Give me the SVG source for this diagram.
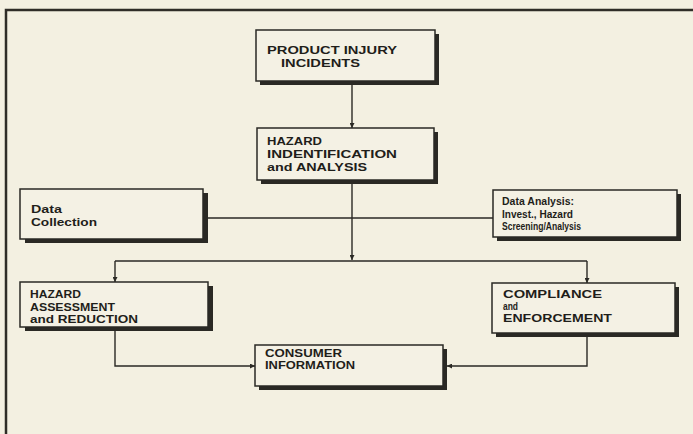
<svg xmlns="http://www.w3.org/2000/svg" width="693" height="434" viewBox="0 0 693 434">
<style>
.bg{fill:#f3f0e1}
.frame{fill:none;stroke:#2f2d27;stroke-width:2.5}
.box{fill:#f4f1e4;stroke:#2a2924;stroke-width:1.5}
.sh{fill:#2a2924}
.t{font-family:"Liberation Sans",Arial,sans-serif;font-weight:bold;font-size:10.5px;fill:#1f1e1a}
.c{fill:none;stroke:#2a2924;stroke-width:1.4}
</style>
<defs>
<marker id="ah" viewBox="0 0 10 10" refX="10" refY="5" markerWidth="5" markerHeight="5" orient="auto" markerUnits="userSpaceOnUse">
<path d="M0,0 L10,5 L0,10 z" fill="#2a2924"/>
</marker>
</defs>
<rect class="bg" x="0" y="0" width="693" height="434"/>
<rect class="frame" x="6" y="10" width="700" height="440"/>

<g id="connectors">
<line class="c" x1="352" y1="85" x2="352" y2="128" marker-end="url(#ah)"/>
<line class="c" x1="352" y1="184" x2="352" y2="260" marker-end="url(#ah)"/>
<line class="c" x1="208" y1="218" x2="493" y2="218"/>
<line class="c" x1="115" y1="261" x2="587" y2="261"/>
<line class="c" x1="115" y1="261" x2="115" y2="282" marker-end="url(#ah)"/>
<line class="c" x1="587" y1="261" x2="587" y2="283" marker-end="url(#ah)"/>
<polyline class="c" points="115,331 115,366 255,366" marker-end="url(#ah)"/>
<polyline class="c" points="587,337 587,366 447,366" marker-end="url(#ah)"/>
</g>

<g id="product-injury">
<rect class="sh" x="260" y="34" width="179" height="51"/>
<rect class="box" x="256" y="30" width="179" height="51"/>
<text class="t" x="267" y="54" textLength="130" lengthAdjust="spacingAndGlyphs">PRODUCT INJURY</text>
<text class="t" x="281" y="67" textLength="79" lengthAdjust="spacingAndGlyphs">INCIDENTS</text>
</g>

<g id="hazard-identification">
<rect class="sh" x="261" y="132" width="177" height="52"/>
<rect class="box" x="257" y="128" width="177" height="52"/>
<text class="t" x="267" y="145" textLength="55" lengthAdjust="spacingAndGlyphs">HAZARD</text>
<text class="t" x="267" y="158" textLength="130" lengthAdjust="spacingAndGlyphs">INDENTIFICATION</text>
<text class="t" x="267" y="171" textLength="100" lengthAdjust="spacingAndGlyphs">and ANALYSIS</text>
</g>

<g id="data-collection">
<rect class="sh" x="25" y="193" width="183" height="50"/>
<rect class="box" x="20" y="189" width="183" height="50"/>
<text class="t" x="31" y="213" textLength="31" lengthAdjust="spacingAndGlyphs">Data</text>
<text class="t" x="31" y="226" textLength="66" lengthAdjust="spacingAndGlyphs">Collection</text>
</g>

<g id="data-analysis">
<rect class="sh" x="497" y="194" width="184" height="47"/>
<rect class="box" x="493" y="190" width="184" height="47"/>
<text class="t" x="502" y="205" textLength="72" lengthAdjust="spacingAndGlyphs">Data Analysis:</text>
<text class="t" x="502" y="217.5" textLength="71" lengthAdjust="spacingAndGlyphs">Invest., Hazard</text>
<text class="t" x="502" y="230" textLength="79" lengthAdjust="spacingAndGlyphs">Screening/Analysis</text>
</g>

<g id="hazard-assessment">
<rect class="sh" x="25" y="286" width="188" height="45"/>
<rect class="box" x="20" y="282" width="188" height="45"/>
<text class="t" x="30" y="298" textLength="51" lengthAdjust="spacingAndGlyphs">HAZARD</text>
<text class="t" x="30" y="310.5" textLength="85" lengthAdjust="spacingAndGlyphs">ASSESSMENT</text>
<text class="t" x="30" y="323" textLength="108" lengthAdjust="spacingAndGlyphs">and REDUCTION</text>
</g>

<g id="compliance">
<rect class="sh" x="496" y="287" width="183" height="50"/>
<rect class="box" x="492" y="283" width="183" height="50"/>
<text class="t" x="503" y="298" textLength="99" lengthAdjust="spacingAndGlyphs">COMPLIANCE</text>
<text class="t" x="503" y="310" textLength="15" lengthAdjust="spacingAndGlyphs">and</text>
<text class="t" x="503" y="322" textLength="109" lengthAdjust="spacingAndGlyphs">ENFORCEMENT</text>
</g>

<g id="consumer-information">
<rect class="sh" x="259" y="349" width="188" height="41"/>
<rect class="box" x="255" y="345" width="188" height="41"/>
<text class="t" x="265" y="357" textLength="77" lengthAdjust="spacingAndGlyphs">CONSUMER</text>
<text class="t" x="265" y="369" textLength="90" lengthAdjust="spacingAndGlyphs">INFORMATION</text>
</g>
</svg>
